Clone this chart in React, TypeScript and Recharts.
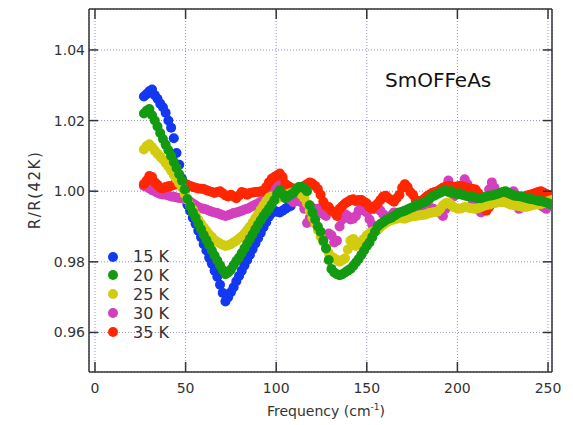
import React from 'react';
import { ScatterChart, Scatter, XAxis, YAxis, CartesianGrid, Legend, Label } from 'recharts';

const FONT = '"DejaVu Sans", sans-serif';
const TXT = '#333';

const xTicks = [0, 50, 100, 150, 200, 250];
const yTicks = [0.96, 0.98, 1.0, 1.02, 1.04];

const freq = [
  27, 28.5, 30, 31.5, 33, 34.5, 36, 37.5, 39, 40.5,
  42, 43.5, 45, 46.5, 48, 49.5, 51, 52.5, 54, 55.5,
  57, 58.5, 60, 61.5, 63, 64.5, 66, 67.5, 69, 70.5,
  72, 73.5, 75, 76.5, 78, 79.5, 81, 82.5, 84, 85.5,
  87, 88.5, 90, 91.5, 93, 94.5, 96, 97.5, 99, 100.5,
  102, 103.5, 105, 106.5, 108, 109.5, 111, 112.5, 114, 115.5,
  117, 118.5, 120, 121.5, 123, 124.5, 126, 127.5, 129, 130.5,
  132, 133.5, 135, 136.5, 138, 139.5, 141, 142.5, 144, 145.5,
  147, 148.5, 150, 151.5, 153, 154.5, 156, 157.5, 159, 160.5,
  162, 163.5, 165, 166.5, 168, 169.5, 171, 172.5, 174, 175.5,
  177, 178.5, 180, 181.5, 183, 184.5, 186, 187.5, 189, 190.5,
  192, 193.5, 195, 196.5, 198, 199.5, 201, 202.5, 204, 205.5,
  207, 208.5, 210, 211.5, 213, 214.5, 216, 217.5, 219, 220.5,
  222, 223.5, 225, 226.5, 228, 229.5, 231, 232.5, 234, 235.5,
  237, 238.5, 240, 241.5, 243, 244.5, 246, 247.5, 249, 250.5,
  252,
];

const r15K = [
  1.0268, 1.0275, 1.0283, 1.0288, 1.0272, 1.0262, 1.0248, 1.0238, 1.0222, 1.02,
  1.018, 1.015, 1.0108, 1.0075, 1.0035, 1.0, 0.9962, 0.9945, 0.9925, 0.9908,
  0.9888, 0.987, 0.985, 0.9832, 0.9812, 0.9795, 0.9775, 0.9758, 0.9735, 0.9712,
  0.9688, 0.97, 0.9714, 0.9728, 0.9745, 0.976, 0.9775, 0.979, 0.9805, 0.982,
  0.9836, 0.9852, 0.9867, 0.9882, 0.9898, 0.9912, 0.9928, 0.9938, 0.9945, 0.9942,
  0.994, 0.9945, 0.995, 0.9955, 0.9958,
];

const r20K = [
  1.022, 1.0228, 1.0233, 1.0215, 1.02, 1.0183, 1.0165, 1.0148, 1.0132, 1.0116,
  1.01, 1.0083, 1.0066, 1.0048, 1.003, 1.0005, 0.9978, 0.9958, 0.994, 0.9925,
  0.9908, 0.9892, 0.9876, 0.9862, 0.9847, 0.9832, 0.9818, 0.9804, 0.979, 0.9777,
  0.9765, 0.977, 0.9778, 0.979, 0.9802, 0.9812, 0.9825, 0.9838, 0.9852, 0.9865,
  0.9878, 0.9892, 0.9905, 0.9918, 0.993, 0.994, 0.995, 0.9962, 0.9975, 0.9992,
  1.0003, 0.9992, 0.998, 0.9985, 0.999, 0.9995, 1.0005, 1.0012, 1.0012, 1.0008,
  1.0, 0.996, 0.994, 0.992, 0.99, 0.9885, 0.986, 0.9838, 0.9805, 0.978,
  0.977, 0.9765, 0.9762, 0.9765, 0.977, 0.9775, 0.978, 0.9788, 0.9798, 0.9808,
  0.982, 0.9832, 0.9845, 0.9855, 0.987, 0.9885, 0.99, 0.9907, 0.9912, 0.9918,
  0.9922, 0.9925, 0.993, 0.9935, 0.994, 0.9942, 0.9945, 0.9948, 0.9952, 0.9955,
  0.996, 0.9962, 0.9965, 0.9968, 0.9972, 0.9978, 0.9985, 0.9988, 0.9992, 0.9996,
  1.0, 1.0002, 0.9998, 1.0, 0.9995, 0.9992, 0.9994, 0.999, 0.9988, 0.9986,
  0.9985, 0.9983, 0.9982, 0.998, 0.998, 0.9983, 0.9985, 0.9987, 0.9988, 0.999,
  0.9992, 0.9995, 0.9998, 1.0, 0.9996, 0.9992, 0.9988, 0.9987, 0.9986, 0.9985,
  0.9982, 0.998, 0.9978, 0.9977, 0.9975, 0.9973, 0.9972, 0.997, 0.9968, 0.9965,
  0.9962,
];

const r25K = [
  1.0118, 1.0128, 1.0133, 1.0125, 1.0115, 1.0106, 1.0098, 1.009, 1.008, 1.007,
  1.0058, 1.0046, 1.0034, 1.0022, 1.001, 0.9992, 0.9975, 0.996, 0.9948, 0.9934,
  0.992, 0.9908, 0.9898, 0.9888, 0.9878, 0.987, 0.9862, 0.9856, 0.9852, 0.9848,
  0.9845, 0.9847, 0.985, 0.9855, 0.986, 0.9866, 0.9872, 0.988, 0.989, 0.99,
  0.9912, 0.9924, 0.9935, 0.9948, 0.996, 0.9972, 0.9982, 0.9985, 0.998, 0.9978,
  0.9985, 0.9988, 0.999, 0.9992, 0.9995, 0.9998, 1.0, 0.9998, 0.999, 0.998,
  0.9965, 0.9945, 0.9925, 0.9908, 0.989, 0.9872, 0.9856, 0.984, 0.9825, 0.9815,
  0.981, 0.9805, 0.98, 0.9805, 0.981, 0.9835, 0.986, 0.9865, 0.9845, 0.985,
  0.9858, 0.9865, 0.9875, 0.988, 0.9885, 0.9888, 0.989, 0.9898, 0.9905, 0.991,
  0.9915, 0.9918, 0.992, 0.9922, 0.9925, 0.9923, 0.9922, 0.9925, 0.9928, 0.9929,
  0.993, 0.9931, 0.9932, 0.9933, 0.9935, 0.9938, 0.994, 0.9941, 0.9942, 0.995,
  0.996, 0.9966, 0.9968, 0.9962, 0.9955, 0.9952, 0.995, 0.9952, 0.9955, 0.9954,
  0.9952, 0.9951, 0.995, 0.9952, 0.9955, 0.9958, 0.996, 0.9962, 0.9965, 0.9966,
  0.9968, 0.9969, 0.997, 0.9968, 0.9965, 0.9962, 0.996, 0.9959, 0.9958, 0.9956,
  0.9955, 0.9956, 0.9958, 0.996, 0.9962, 0.9963, 0.9963, 0.9966, 0.997, 0.9972,
  0.9975,
];

const r30K = [
  1.0015, 1.0012, 1.0008, 1.0003, 1.0, 0.9996, 0.9992, 0.9991, 0.999, 0.9988,
  0.9985, 0.9984, 0.9982, 0.9981, 0.998, 0.9978, 0.9975, 0.997, 0.9965, 0.996,
  0.9955, 0.9952, 0.995, 0.9948, 0.9945, 0.9942, 0.994, 0.9938, 0.9935, 0.9932,
  0.993, 0.9932, 0.9935, 0.9938, 0.994, 0.9942, 0.9945, 0.9948, 0.995, 0.9954,
  0.9958, 0.9962, 0.9965, 0.997, 0.9977, 0.9983, 0.999, 1.0002, 1.0015, 1.0022,
  1.003, 1.0034, 1.002, 0.9995, 0.9975, 0.9969, 0.9972, 0.9977, 0.9968, 0.995,
  0.991, 0.9925, 0.9945, 0.995, 0.995, 0.9942, 0.9935, 0.993, 0.988, 0.9875,
  0.9855, 0.986, 0.99, 0.992, 0.9935, 0.993, 0.992, 0.9922, 0.993, 0.9945,
  0.995, 0.9945, 0.994, 0.992, 0.9905, 0.995, 0.9955, 0.9945, 0.9935, 0.9928,
  0.9926, 0.9932, 0.994, 0.9938, 0.9935, 0.994, 0.9945, 0.9946, 0.9948, 0.995,
  0.995, 0.9948, 0.9945, 0.9948, 0.995, 0.9951, 0.9952, 0.9948, 0.9945, 0.9938,
  0.993, 0.995, 1.003, 1.001, 0.9985, 0.999, 0.9995, 1.0015, 1.0034, 1.002,
  0.9985, 0.997, 0.9958, 0.9948, 0.994, 0.9955, 0.9975, 1.0005, 1.0025, 1.001,
  0.9985, 0.9975, 0.997, 0.9972, 0.9975, 0.9985, 1.0, 0.998, 0.995, 0.9955,
  0.9965, 0.9972, 0.998, 0.9978, 0.9977, 0.9968, 0.996, 0.9955, 0.995, 0.9958,
  0.9965,
];

const r35K = [
  1.002, 1.003, 1.0043, 1.004, 1.0025, 1.0018, 1.001, 1.0008, 1.0012, 1.0014,
  1.0015, 1.0018, 1.002, 1.0022, 1.0025, 1.0022, 1.0018, 1.0015, 1.0012, 1.001,
  1.0008, 1.0007, 1.0006, 1.0003, 1.0, 0.9998, 0.9995, 0.9998, 1.0, 0.9994,
  0.9988, 0.9985, 0.999, 0.9985, 0.998, 0.9988, 0.9998, 0.9995, 0.999, 0.9995,
  0.9996, 0.9998, 0.9998, 1.0, 1.0, 1.0012, 1.0025, 1.0035, 1.004, 1.0045,
  1.005, 1.004, 1.002, 1.0015, 1.001, 1.0008, 1.0005, 1.0007, 1.001, 1.0015,
  1.002, 1.0025, 1.0022, 1.0015, 1.0006, 0.999, 0.997, 0.9958, 0.9955, 0.9945,
  0.994, 0.993, 0.995, 0.9958, 0.9965, 0.997, 0.9975, 0.9977, 0.9972, 0.9975,
  0.9975, 0.997, 0.9965, 0.9955, 0.995, 0.9958, 0.9965, 0.9975, 0.9985, 0.9987,
  0.998, 0.9975, 0.997, 0.998, 0.999, 1.001, 1.002, 1.0012, 0.9998, 0.999,
  0.9975, 0.9972, 0.997, 0.9978, 0.9985, 0.999, 0.9995, 0.9998, 1.0, 1.0005,
  1.001, 1.0013, 1.0015, 1.0014, 1.0012, 1.0013, 1.0015, 1.0014, 1.0012, 1.001,
  1.0008, 1.0006, 1.0005, 0.9995, 0.9975, 0.996, 0.9945, 0.9955, 0.9965, 0.9972,
  0.998, 0.9983, 0.9985, 0.9986, 0.9987, 0.9986, 0.9985, 0.9982, 0.998, 0.9982,
  0.9985, 0.9988, 0.999, 0.9992, 0.9995, 0.9998, 1.0, 0.9996, 0.9992, 0.9989,
  0.9987,
];

const seriesNames = ['15 K', '20 K', '25 K', '30 K', '35 K'];
const seriesColors = ['#1238f2', '#139a12', '#d2cc10', '#d43fbd', '#ff2600'];
const seriesValues = [r15K, r20K, r25K, r30K, r35K];
const drawOrder = [0, 3, 4, 2, 1];

const toPoints = (vals: number[]) => vals.map((v, i) => ({ f: freq[i], v }));

const makeDot = (color: string) => (props: any) =>
  props.cx == null ? <g /> : <circle cx={props.cx} cy={props.cy} r={5} fill={color} />;

const BottomTick = (props: any) => {
  const { x, y, payload } = props;
  return (
    <g>
      <line x1={x} x2={x} y1={y} y2={y - 10} stroke={TXT} strokeWidth={1.5} />
      <text x={x} y={y + 21} textAnchor="middle" fontFamily={FONT} fontSize={14} fill={TXT}>
        {payload.value}
      </text>
    </g>
  );
};

const TopTick = (props: any) => {
  const { x, y } = props;
  return <line x1={x} x2={x} y1={y} y2={y + 10} stroke={TXT} strokeWidth={1.5} />;
};

const LeftTick = (props: any) => {
  const { x, y, payload } = props;
  return (
    <g>
      <line x1={x + 4} x2={x + 13} y1={y} y2={y} stroke={TXT} strokeWidth={1.5} />
      <text x={x} y={y} dy="0.36em" textAnchor="end" fontFamily={FONT} fontSize={14} fill={TXT}>
        {Number(payload.value).toFixed(2)}
      </text>
    </g>
  );
};

const RightTick = (props: any) => {
  const { x, y } = props;
  return <line x1={x} x2={x - 9} y1={y} y2={y} stroke={TXT} strokeWidth={1.5} />;
};

const XLabel = () => (
  <text x={326} y={416} textAnchor="middle" fontFamily={FONT} fontSize={14} fill={TXT}>
    <tspan>Frequency (cm</tspan>
    <tspan dy={-6} fontSize={9}>-1</tspan>
    <tspan dy={6}>)</tspan>
  </text>
);

const YLabel = () => (
  <text
    x={35}
    y={190}
    transform="rotate(-90 35 190)"
    textAnchor="middle"
    dominantBaseline="central"
    fontFamily={FONT}
    fontSize={15}
    letterSpacing={1.5}
    fill={TXT}
  >
    R/R(42K)
  </text>
);

const Title = () => (
  <text x={385} y={87} fontFamily={FONT} fontSize={20} fill="#111">
    SmOFFeAs
  </text>
);

const LegendContent = () => (
  <div style={{ position: 'relative', width: 80, height: 95 }}>
    {seriesNames.map((name, i) => (
      <div
        key={name}
        style={{ position: 'absolute', left: 0, top: i * 18.9, height: 19, display: 'flex', alignItems: 'center' }}
      >
        <div style={{ width: 10, height: 10, borderRadius: 5, background: seriesColors[i], marginLeft: 4 }} />
        <span style={{ marginLeft: 15, fontFamily: FONT, fontSize: 16, color: TXT, lineHeight: '19px', whiteSpace: 'nowrap' }}>
          {name}
        </span>
      </div>
    ))}
  </div>
);

export default function App() {
  const axisLine = { stroke: TXT, strokeWidth: 1.5 };
  return (
    <div style={{ position: 'absolute', left: 0, top: 0, width: 573, height: 425, background: '#fff' }}>
      <ScatterChart width={573} height={425} margin={{ top: 4, right: 11, bottom: 0, left: 29 }}>
        <CartesianGrid xAxisId="b" yAxisId="l" stroke="#9090e0" strokeDasharray="1 2" />
        <XAxis
          xAxisId="b"
          type="number"
          dataKey="f"
          domain={[-3.3, 252.2]}
          allowDataOverflow
          ticks={xTicks}
          height={53}
          tickSize={0}
          tickMargin={0}
          axisLine={axisLine}
          tick={<BottomTick />}
        >
          <Label content={<XLabel />} />
        </XAxis>
        <XAxis
          xAxisId="t"
          orientation="top"
          type="number"
          dataKey="f"
          domain={[-3.3, 252.2]}
          allowDataOverflow
          ticks={xTicks}
          height={5}
          tickSize={0}
          tickMargin={0}
          axisLine={axisLine}
          tick={<TopTick />}
        >
          <Label content={<Title />} />
        </XAxis>
        <YAxis
          yAxisId="l"
          type="number"
          dataKey="v"
          domain={[0.9488, 1.0516]}
          allowDataOverflow
          ticks={yTicks}
          width={60}
          tickSize={0}
          tickMargin={4}
          axisLine={axisLine}
          tick={<LeftTick />}
        >
          <Label content={<YLabel />} />
        </YAxis>
        <YAxis
          yAxisId="r"
          orientation="right"
          type="number"
          dataKey="v"
          domain={[0.9488, 1.0516]}
          allowDataOverflow
          ticks={yTicks}
          width={10}
          tickSize={0}
          tickMargin={0}
          axisLine={axisLine}
          tick={<RightTick />}
        />
        {drawOrder.map((i) => (
          <Scatter
            key={seriesNames[i]}
            name={seriesNames[i]}
            xAxisId="b"
            yAxisId="l"
            data={toPoints(seriesValues[i])}
            fill={seriesColors[i]}
            shape={makeDot(seriesColors[i])}
            isAnimationActive={false}
          />
        ))}
        <Legend
          layout="horizontal"
          verticalAlign="middle"
          align="center"
          wrapperStyle={{ left: 104, top: 247, width: 80, height: 95 }}
          content={<LegendContent />}
        />
      </ScatterChart>
    </div>
  );
}
